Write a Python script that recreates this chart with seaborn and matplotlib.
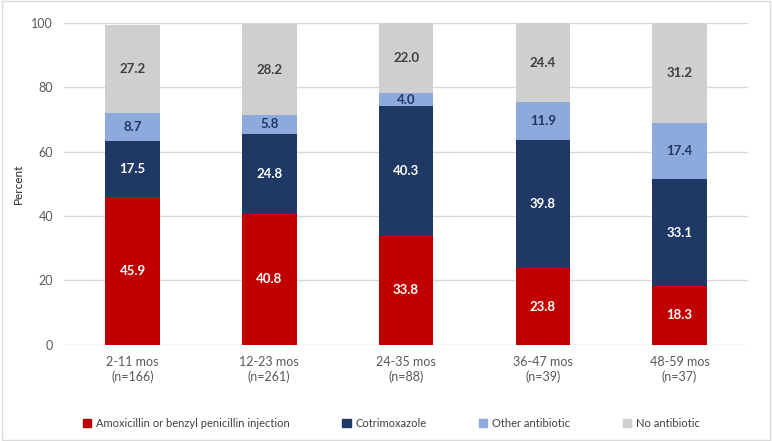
import numpy as np
import pandas as pd
import matplotlib.pyplot as plt
import seaborn as sns
from matplotlib.patches import Rectangle

# data
groups = ['2-11 mos\n(n=166)', '12-23 mos\n(n=261)', '24-35 mos\n(n=88)',
          '36-47 mos\n(n=39)', '48-59 mos\n(n=37)']
amoxicillin = [45.9, 40.8, 33.8, 23.8, 18.3]
cotrimoxazole = [17.5, 24.8, 40.3, 39.8, 33.1]
other_ab = [8.7, 5.8, 4.0, 11.9, 17.4]
no_ab = [27.2, 28.2, 22.0, 24.4, 31.2]

series = ['Amoxicillin or benzyl penicillin injection', 'Cotrimoxazole',
          'Other antibiotic', 'No antibiotic']
colors = ['#C00000', '#1F3864', '#8EA9DB', '#D0CECE']
label_colors = ['white', 'white', '#1F3864', '#404040']

sns.set_theme(style="white")
plt.rcParams['font.family'] = ['Lato', 'DejaVu Sans']

df = pd.DataFrame({'group': groups, series[0]: amoxicillin, series[1]: cotrimoxazole,
                   series[2]: other_ab, series[3]: no_ab})
cum = df[series].cumsum(axis=1)

fig = plt.figure(figsize=(7.72, 4.41), dpi=100)
ax = fig.add_axes([0.083, 0.218, 0.886, 0.730])

# stacked bars: draw cumulative totals from the top layer down
for i in range(len(series) - 1, -1, -1):
    sns.barplot(x=df['group'], y=cum[series[i]], color=colors[i], width=0.4,
                saturation=1, linewidth=0, ax=ax, zorder=2)

# segment labels
for j in range(len(groups)):
    bottom = 0
    for i, s in enumerate(series):
        v = df[s][j]
        ax.text(j, bottom + v / 2, f'{v:.1f}', ha='center', va='center',
                color=label_colors[i], fontsize=9.5, fontweight='bold', zorder=3)
        bottom += v

ax.set_ylim(0, 100)
ax.set_yticks([0, 20, 40, 60, 80, 100])
ax.set_xlim(-0.5, 4.5)
ax.yaxis.grid(True, color='#D9D9D9', linewidth=1, zorder=0)
ax.set_axisbelow(True)
for sp in ax.spines.values():
    sp.set_visible(False)
ax.set_xlabel('')
ax.set_ylabel('Percent', fontsize=8.5, color='#262626', labelpad=5)
ax.tick_params(axis='both', length=0, labelsize=9, colors='#595959', pad=8)

handles = [Rectangle((0, 0), 1, 1, color=c) for c in colors]
fig.legend(handles, series, loc='center', bbox_to_anchor=(0.507, 0.04), ncol=4,
           frameon=False, fontsize=8, handlelength=0.75, handleheight=0.75,
           handletextpad=0.45, columnspacing=4.7, labelcolor='#404040')

# light outer border like the source
fig.patches.append(Rectangle((0.002, 0.002), 0.996, 0.996, transform=fig.transFigure,
                             fill=False, edgecolor='#D9D9D9', linewidth=1))

fig.savefig('out.png', dpi=100)
